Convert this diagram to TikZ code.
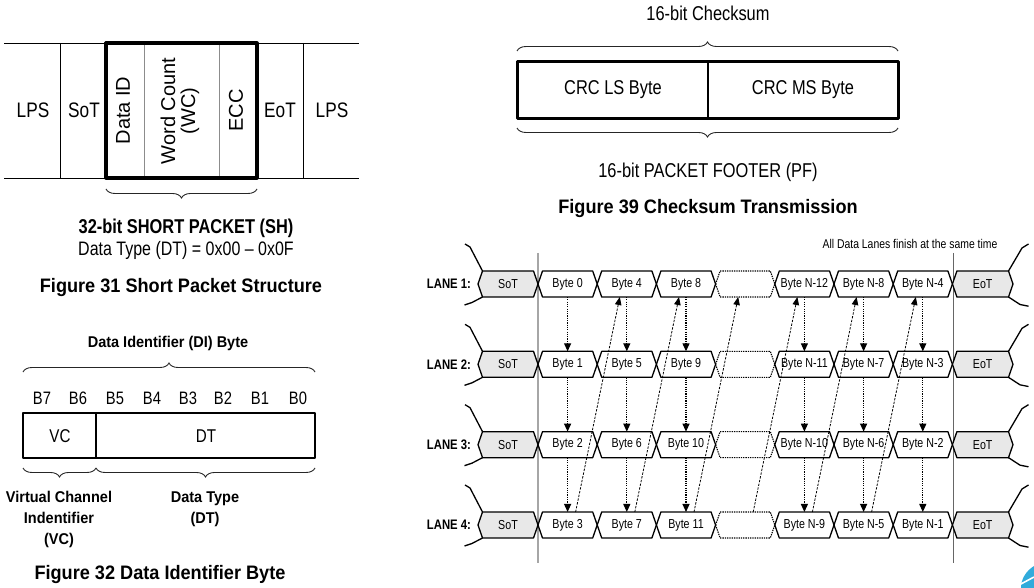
\documentclass[tikz,border=0pt]{standalone}
\usepackage{fontspec}
\setmainfont{Liberation Sans}
\newfontfamily\nar[FakeStretch=0.82]{Liberation Sans}
\newfontfamily\semi[FakeStretch=0.93]{Liberation Sans}
\usetikzlibrary{arrows.meta,decorations.pathreplacing}
\newcommand\fsz[1]{\fontsize{#1}{#1}\selectfont}
\newcommand\hexdraw[2]{\draw[#2] (#1.west) -- ([xshift=4.5pt]#1.north west) -- ([xshift=-4.5pt]#1.north east) -- (#1.east) -- ([xshift=-4.5pt]#1.south east) -- ([xshift=4.5pt]#1.south west) -- cycle;}
\begin{document}
\begin{tikzpicture}[x=1pt,y=-1pt,
  every node/.style={inner sep=0pt,outer sep=0pt},
  lbig/.style={font=\nar\fsz{21}},
  rot/.style={font=\fontsize{20}{20}\selectfont,rotate=90,align=center},
  lmid/.style={font=\nar\fsz{20}},
  capt/.style={font=\semi\bfseries\fsz{19.5}},
  bsmall/.style={font=\semi\bfseries\fontsize{15.6}{21}\selectfont,align=center},
  brc/.style={decorate,decoration={brace,amplitude=9pt},line width=0.9pt,black!85},
  brcm/.style={decorate,decoration={brace,amplitude=9pt,mirror},line width=0.9pt,black!85},
  lanelbl/.style={font=\nar\bfseries\fsz{13.8},anchor=east},
  bytebox/.style={minimum width=59.2pt,minimum height=26pt,font=\nar\fsz{13}},
  edgebox/.style={minimum width=60pt,minimum height=26pt},
  edgetxt/.style={font=\nar\fsz{13}},
  solidhex/.style={line width=1.3pt,line join=round},
  gryhex/.style={line width=1.3pt,line join=round,fill=black!9},
  dothex/.style={line width=1.1pt,dash pattern=on 1.3pt off 1pt},
  varr/.style={line width=1.1pt,dash pattern=on 1.2pt off 1.1pt,-{Triangle[length=8pt,width=7pt]}},
  darr/.style={line width=0.8pt,dash pattern=on 2.4pt off 1.4pt,-{Triangle[length=8pt,width=6.5pt]}},
  lead/.style={line width=1.3pt,line join=round}
]
\useasboundingbox (0,0) rectangle (1034,588);

% ---------------- Figure 31 ----------------
\draw[line width=0.8pt] (4,43) -- (359,43) (4,178) -- (359,178);
\draw[line width=0.8pt] (60,43) -- (60,178) (303,43) -- (303,178);
\draw[black!45,line width=0.9pt] (144,43) -- (144,178) (219,43) -- (219,178);
\draw[line width=3.2pt,line join=round] (106,43) rectangle (257,178);
\node[lbig] (lpsA) at (33,110.5) {LPS};
\node[lbig] (sotA) at (84,110.5) {SoT};
\node[rot] (did) at (123,110.5) {Data ID};
\node[rot,font=\fontsize{20}{20}\selectfont] (wc) at (180,111) {Word Count\\(WC)};
\node[rot] (ecc) at (236,110.5) {ECC};
\node[lbig] (eotA) at (280,110.5) {EoT};
\node[lbig] (lpsB) at (332,110.5) {LPS};
\draw[brcm] (106,189) -- (257,189);
\node[font=\nar\bfseries\fsz{20}] (sh) at (186,228) {32-bit SHORT PACKET (SH)};
\node[font=\nar\fsz{19.5}] (dtv) at (186,250) {Data Type (DT) = 0x00 – 0x0F};
\node[capt] (f31) at (181,288) {Figure 31 Short Packet Structure};

% ---------------- Figure 32 ----------------
\node[font=\semi\bfseries\fsz{15.6}] (dib) at (168,343) {Data Identifier (DI) Byte};
\draw[brc] (23,372) -- (315,372);
\foreach \b/\x in {7/42,6/78,5/115,4/152,3/188,2/223,1/260,0/298}
  \node[font=\nar\fsz{18}] (bit\b) at (\x,398) {B\b};
\draw[line width=2.6pt,line join=round] (23,413) rectangle (315,458);
\draw[line width=2pt] (96,413) -- (96,458);
\node[font=\nar\fsz{18.5}] (vc) at (60,436) {VC};
\node[font=\nar\fsz{18.5}] (dtb) at (206,436) {DT};
\draw[brcm] (23,468) -- (96,468);
\draw[brcm] (96,468) -- (315,468);
\node[bsmall] (vci) at (59,519) {Virtual Channel\\Indentifier\\(VC)};
\node[bsmall] (dtl) at (205,509) {Data Type\\(DT)};
\node[capt] (f32) at (160,574) {Figure 32 Data Identifier Byte};

% ---------------- Figure 39 ----------------
\node[lmid] (cks) at (708,13) {16-bit Checksum};
\draw[brc] (517,51) -- (898,51);
\draw[line width=3pt,line join=round] (517,62) rectangle (898,119);
\draw[line width=2.4pt] (708,62) -- (708,119);
\node[lmid] (crcl) at (613,90) {CRC LS Byte};
\node[lmid] (crcm) at (803,90) {CRC MS Byte};
\draw[brcm] (517,128) -- (898,128);
\node[lmid] (pf) at (708,172) {16-bit PACKET FOOTER (PF)};
\node[capt] (f39) at (708,209) {Figure 39 Checksum Transmission};

% ---------------- Lane distribution ----------------
\node[font=\nar\fsz{12.7}] (note) at (910,244) {All Data Lanes finish at the same time};
\coordinate (gA1) at (538,253); \coordinate (gA2) at (538,563);
\coordinate (gB1) at (953,253); \coordinate (gB2) at (953,563);
\draw[black!35,line width=1.6pt] (gA1) -- (gA2);
\draw[black!60,line width=0.8pt] (gB1) -- (gB2);

\foreach \L in {1,2,3,4}{
  \pgfmathsetmacro\yc{284+80.33*(\L-1)}
  \pgfmathtruncatemacro\kA{\L-1}
  \pgfmathtruncatemacro\kB{\L+3}
  \pgfmathtruncatemacro\kC{\L+7}
  \pgfmathtruncatemacro\kD{13-\L}
  \pgfmathtruncatemacro\kE{9-\L}
  \pgfmathtruncatemacro\kF{5-\L}
  \node[lanelbl] (lane\L) at (471,\yc) {LANE \L:};
  \node[edgebox] (sot\L) at (508,\yc) {};
  \hexdraw{sot\L}{gryhex}
  \node[edgetxt] (sott\L) at (sot\L) {SoT};
  \node[edgebox,minimum width=60.6pt] (eot\L) at (982.7,\yc) {};
  \hexdraw{eot\L}{gryhex}
  \node[edgetxt] (eott\L) at (eot\L) {EoT};
  \foreach \s/\t in {0/Byte \kA,1/Byte \kB,2/Byte \kC,4/Byte N-\kD,5/Byte N-\kE,6/Byte N-\kF}{
    \node[bytebox] (b\L-\s) at ({567.6+59.2*\s},\yc) {\t};
    \hexdraw{b\L-\s}{solidhex}
  }
  \node[bytebox] (b\L-3) at (745.2,\yc) {};
  \hexdraw{b\L-3}{dothex}
  \draw[lead] ([xshift=4.5pt]sot\L.north west) -- ++(-12.5,-24) -- ++(-5,-3);
  \draw[lead] ([xshift=4.5pt]sot\L.south west) -- ++(-10.5,5.5) -- ++(-7.5,2.5);
  \draw[lead] ([xshift=-4.5pt]eot\L.north east) -- ++(13.5,-23) -- ++(6.5,-4);
  \draw[lead] ([xshift=-4.5pt]eot\L.south east) -- ++(11.5,7.5) -- ++(8.5,1.7);
}

\foreach \L/\M in {1/2,2/3,3/4}
  \foreach \s in {0,1,2,4,5,6}
    \draw[varr] (b\L-\s.south) -- (b\M-\s.north);

\foreach \s/\t in {0/1,1/2,2/3,3/4,4/5,5/6}
  \draw[darr] ([xshift=8pt]b4-\s.north) -- ([xshift=-7pt]b1-\t.south);

% logo fragment
\fill[cyan!75!teal!90!white] (1021,588) .. controls (1021,579) and (1026,571) .. (1034,566) -- (1034,588) -- cycle;
\draw[white,line width=1.6pt] (1019,585) -- (1034,577);
\end{tikzpicture}
\end{document}
